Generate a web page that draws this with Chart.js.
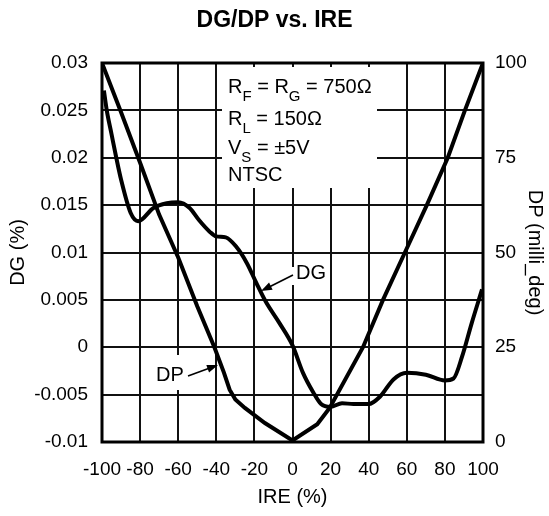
<!DOCTYPE html>
<html>
<head>
<meta charset="utf-8">
<title>DG/DP vs. IRE</title>
<script src="https://cdn.jsdelivr.net/npm/chart.js@4.4.1/dist/chart.umd.min.js"></script>
<style>
    html, body { margin: 0; padding: 0; background: #fff; }
    #wrap { width: 549px; height: 516px; }
</style>
</head>
<body>
<div id="wrap"><canvas id="dgdpChart" width="549" height="516"></canvas></div>
<script>
    // Values
    const dgIre = [-99, -97.5, -95, -92.5, -90, -85, -81, -73, -66, -60, -54, -49, -43.5, -40, -35, -29.5, -24, -19, -14, -7, 0, 5.5, 11, 15, 20, 26, 32, 40, 46, 53, 60, 70, 80, 84.5, 89, 94, 99.5];
    const dgValues = [0.0271, 0.025, 0.0225, 0.02, 0.0177, 0.0142, 0.0133, 0.0147, 0.0152, 0.0153, 0.0147, 0.0134, 0.0122, 0.0117, 0.0116, 0.0106, 0.0089, 0.0068, 0.0048, 0.0026, 0.0002, -0.0027, -0.0048, -0.006, -0.0063, -0.0059, -0.006, -0.006, -0.0052, -0.0034, -0.0027, -0.0029, -0.0035, -0.0033, -0.001, 0.0025, 0.0061];

    const dpIre = [-100, -90, -80, -70, -60, -50, -41, -36, -33, -30, -25, -14.5, 0, 13, 19.5, 37, 47.5, 59, 70.5, 81.5, 90.5, 100];
    const dpValues = [100, 87, 73.7, 60, 48.7, 35.8, 25, 18.3, 13.8, 11.2, 9, 5, 0.4, 4.7, 9, 25, 37.5, 50, 62.5, 75, 87.5, 100];

    // Tick labels
    const ireTicks = [-100, -80, -60, -40, -20, 0, 20, 40, 60, 80, 100];
    const dgTicks = [-0.01, -0.005, 0, 0.005, 0.01, 0.015, 0.02, 0.025, 0.03];
    const dpTicks = [0, 25, 50, 75, 100];

    Chart.defaults.font.family = "'Liberation Sans', Arial, Helvetica, sans-serif";
    Chart.defaults.color = '#000';

    const toPoints = (xs, ys) => xs.map((x, i) => ({ x: x, y: ys[i] }));

    function arrow(ctx, x1, y1, x2, y2) {
        const ang = Math.atan2(y2 - y1, x2 - x1);
        ctx.lineWidth = 1.6;
        ctx.beginPath();
        ctx.moveTo(x1, y1);
        ctx.lineTo(x2 - 8 * Math.cos(ang), y2 - 8 * Math.sin(ang));
        ctx.stroke();
        ctx.beginPath();
        ctx.moveTo(x2, y2);
        ctx.lineTo(x2 - 11 * Math.cos(ang) + 4 * Math.sin(ang), y2 - 11 * Math.sin(ang) - 4 * Math.cos(ang));
        ctx.lineTo(x2 - 11 * Math.cos(ang) - 4 * Math.sin(ang), y2 - 11 * Math.sin(ang) + 4 * Math.cos(ang));
        ctx.closePath();
        ctx.fill();
    }

    // text with subscripts: [text, isSub]
    function subText(ctx, parts, x, y) {
        parts.forEach(p => {
            ctx.font = p[1] ? "15px 'Liberation Sans', Arial, sans-serif" : "20px 'Liberation Sans', Arial, sans-serif";
            ctx.fillText(p[0], x, p[1] ? y + 8 : y);
            x += ctx.measureText(p[0]).width;
        });
    }

    const notes = {
        id: 'notes',
        beforeDatasetsDraw(chart) {
            const { ctx, chartArea: a } = chart;
            ctx.save();
            ctx.fillStyle = '#fff';
            ctx.fillRect(a.left + 120, a.top + 4, 155, 121);
            ctx.fillRect(a.left + 48, a.top + 292, 40, 35);
            ctx.fillRect(a.left + 188, a.top + 204, 38, 18);
            ctx.strokeStyle = '#000';
            ctx.lineWidth = 3;
            ctx.strokeRect(a.left, a.top, a.right - a.left, a.bottom - a.top);
            ctx.restore();
        },
        afterDatasetsDraw(chart) {
            const { ctx, chartArea: a } = chart;
            ctx.save();
            ctx.fillStyle = '#000';
            ctx.strokeStyle = '#000';
            ctx.textBaseline = 'alphabetic';
            const x0 = a.left + 126;
            subText(ctx, [['R', 0], ['F', 1], [' = R', 0], ['G', 1], [' = 750\u03A9', 0]], x0, a.top + 30);
            subText(ctx, [['R', 0], ['L', 1], [' = 150\u03A9', 0]], x0, a.top + 62);
            subText(ctx, [['V', 0], ['S', 1], [' = \u00B15V', 0]], x0, a.top + 91);
            subText(ctx, [['NTSC', 0]], x0, a.top + 118);

            ctx.font = "20px 'Liberation Sans', Arial, sans-serif";
            ctx.textBaseline = 'middle';
            ctx.fillText('DP', a.left + 54, a.top + 312);
            ctx.fillText('DG', a.left + 194, a.top + 210);
            arrow(ctx, a.left + 86, a.top + 313, a.left + 116, a.top + 302);
            arrow(ctx, a.left + 191, a.top + 212, a.left + 159, a.top + 228);
            ctx.restore();
        }
    };

    new Chart(document.getElementById('dgdpChart'), {
        type: 'line',
        data: {
            datasets: [
                { label: 'DG', data: toPoints(dgIre, dgValues), yAxisID: 'y', borderColor: '#000', borderWidth: 4, pointRadius: 0, cubicInterpolationMode: 'monotone', fill: false },
                { label: 'DP', data: toPoints(dpIre, dpValues), yAxisID: 'y2', borderColor: '#000', borderWidth: 4, pointRadius: 0, tension: 0, fill: false }
            ]
        },
        options: {
            responsive: false,
            animation: false,
            devicePixelRatio: 1,
            layout: { padding: 0 },
            plugins: {
                legend: { display: false },
                tooltip: { enabled: false },
                title: { display: true, text: 'DG/DP vs. IRE', color: '#000', font: { size: 23, weight: 'bold' }, padding: { top: 7, bottom: 28.4 } }
            },
            scales: {
                x: {
                    type: 'linear',
                    min: ireTicks[0], max: ireTicks[ireTicks.length - 1],
                    ticks: { stepSize: ireTicks[1] - ireTicks[0], font: { size: 19 }, padding: 16, maxRotation: 0, autoSkip: false },
                    grid: { color: '#111', lineWidth: 2, drawTicks: false },
                    border: { display: false },
                    title: { display: true, text: 'IRE (%)', font: { size: 20 }, padding: { top: 0, bottom: 7 } },
                    afterFit(s) { s.height = 74; }
                },
                y: {
                    position: 'left',
                    min: dgTicks[0], max: dgTicks[dgTicks.length - 1],
                    ticks: { stepSize: dgTicks[1] - dgTicks[0], font: { size: 19 }, padding: 14, callback: v => String(+v.toFixed(3)) },
                    grid: { color: '#111', lineWidth: 2, drawTicks: false },
                    border: { display: false },
                    title: { display: true, text: 'DG (%)', font: { size: 20 }, padding: { top: 6, bottom: 0 } },
                    afterFit(s) { s.width = 102; }
                },
                y2: {
                    position: 'right',
                    min: dpTicks[0], max: dpTicks[dpTicks.length - 1],
                    ticks: { stepSize: dpTicks[1] - dpTicks[0], font: { size: 19 }, padding: 12 },
                    grid: { display: false, drawTicks: false },
                    border: { display: false },
                    title: { display: true, text: 'DP (milli_deg)', font: { size: 20 }, padding: { top: 2, bottom: 0 } },
                    afterFit(s) { s.width = 66; }
                }
            }
        },
        plugins: [notes]
    });
</script>
</body>
</html>
